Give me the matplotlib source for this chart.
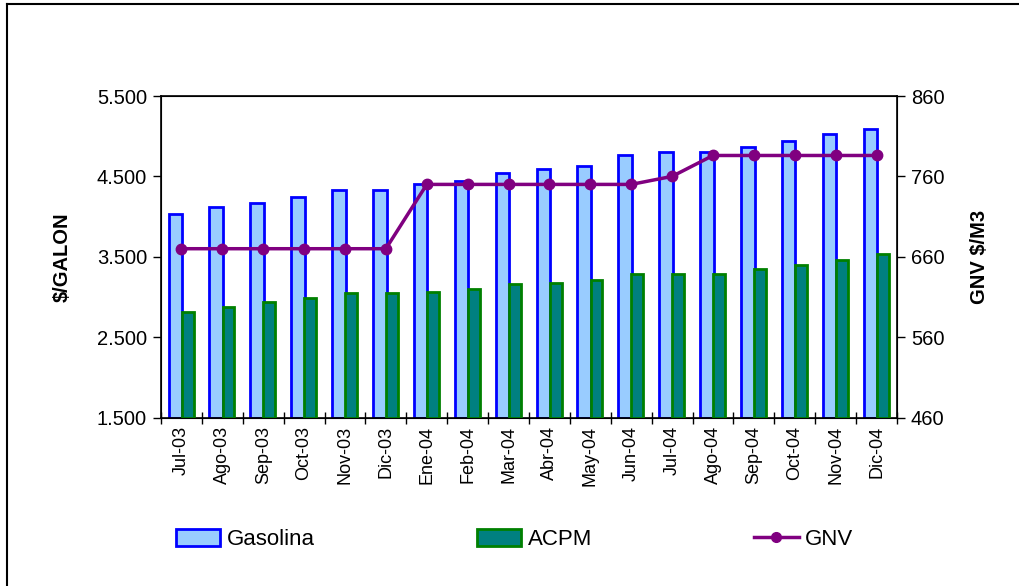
import matplotlib
matplotlib.use("Agg")
import matplotlib.pyplot as plt
from matplotlib.ticker import FuncFormatter, FixedLocator
from matplotlib.lines import Line2D
from matplotlib.patches import Patch

plt.rcParams['font.family'] = ['Liberation Sans', 'DejaVu Sans']

months = ["Jul-03", "Ago-03", "Sep-03", "Oct-03", "Nov-03", "Dic-03", "Ene-04", "Feb-04",
          "Mar-04", "Abr-04", "May-04", "Jun-04", "Jul-04", "Ago-04", "Sep-04", "Oct-04",
          "Nov-04", "Dic-04"]
gasolina = [4030, 4113, 4170, 4245, 4328, 4328, 4400, 4441, 4536, 4590, 4627, 4765,
            4806, 4806, 4860, 4939, 5022, 5092]
acpm = [2817, 2874, 2933, 2987, 3049, 3049, 3066, 3099, 3157, 3174, 3216, 3290,
        3290, 3290, 3348, 3394, 3465, 3540]
gnv = [670, 670, 670, 670, 670, 670, 750, 750, 750, 750, 750, 750,
       760, 786, 786, 786, 786, 786]
left_ticks = [1500, 2500, 3500, 4500, 5500]
right_ticks = [460, 560, 660, 760, 860]

fig = plt.figure(figsize=(10.2, 5.86), dpi=100)
ax = fig.add_axes([161/1020, 1-417.5/586, (897-161)/1020, (417.5-96)/586])

x = list(range(len(months)))
ax.bar([i - 0.15 for i in x], [g - 1500 for g in gasolina], bottom=1500, width=0.33,
       color='#99CCFF', edgecolor='#0000FF', linewidth=2.0, zorder=2)
ax.bar([i + 0.15 for i in x], [a - 1500 for a in acpm], bottom=1500, width=0.29,
       color='#008080', edgecolor='#008000', linewidth=2.0, zorder=3)

ax.set_xlim(-0.5, len(months) - 0.5)
ax.set_ylim(1500, 5500)
ax.set_yticks(left_ticks)
ax.yaxis.set_major_formatter(FuncFormatter(lambda v, p: f"{int(v):,}".replace(",", ".")))
ax.set_xticks(x)
ax.set_xticklabels(months, rotation=90, fontsize=13)
ax.xaxis.set_minor_locator(FixedLocator([i - 0.5 for i in range(len(months) + 1)]))
ax.tick_params(axis='x', which='major', length=0, pad=6)
ax.tick_params(axis='x', which='minor', direction='inout', length=9, width=1)
ax.tick_params(axis='y', which='major', direction='out', length=6, width=1, labelsize=14.5, pad=4)
ax.set_ylabel("$/GALON", fontsize=14.5, fontweight='bold', labelpad=18)
for s in ax.spines.values():
    s.set_linewidth(1.2)

ax2 = ax.twinx()
ax2.plot(x, gnv, color='#800080', linewidth=2.5, marker='o', markersize=7.5, zorder=5)
ax2.set_ylim(460, 860)
ax2.set_yticks(right_ticks)
ax2.tick_params(axis='y', which='major', direction='out', length=6, width=1, labelsize=14.5, pad=4)
ax2.set_ylabel("GNV $/M3", fontsize=14.5, fontweight='bold', labelpad=18)
ax2.set_xlim(-0.5, len(months) - 0.5)

handles = [Patch(facecolor='#99CCFF', edgecolor='#0000FF', linewidth=2.0),
           Patch(facecolor='#008080', edgecolor='#008000', linewidth=2.0),
           Line2D([], [], color='#800080', linewidth=2.5, marker='o', markersize=7)]
fig.legend(handles, ["Gasolina", "ACPM", "GNV"], loc='center left',
           bbox_to_anchor=(176/1020, 1-539.5/586), ncol=3, frameon=False, fontsize=16,
           handlelength=2.0, handleheight=0.78, handletextpad=0.28, columnspacing=7.3,
           borderaxespad=0, borderpad=0)

fig.add_artist(Line2D([7/1020, 7/1020], [0, 1-4/586], transform=fig.transFigure,
                      color='black', linewidth=1.5))
fig.add_artist(Line2D([7/1020, 1], [1-4/586, 1-4/586], transform=fig.transFigure,
                      color='black', linewidth=1.5))

fig.savefig("out.png", dpi=100)
